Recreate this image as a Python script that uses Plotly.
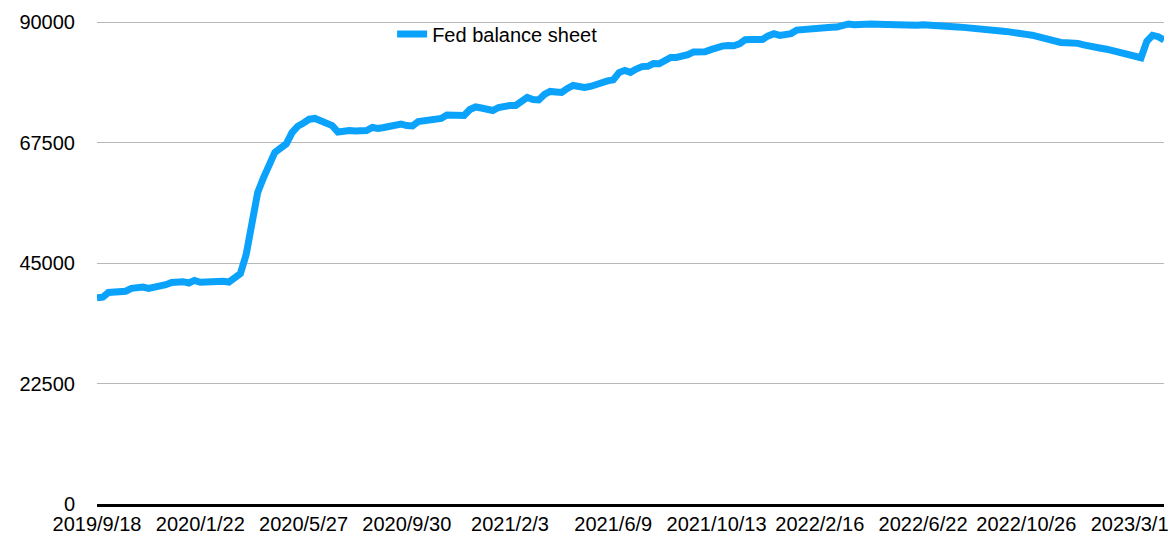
import datetime as dt
import plotly.graph_objects as go

start_date = dt.date(2019, 9, 18)
n_weeks = 187
dates = [(start_date + dt.timedelta(weeks=i)) for i in range(n_weeks)]
categories = [f"{d.year}/{d.month}/{d.day}" for d in dates]

fed_balance_sheet = [
    38540, 38650, 39530, 39600, 39700, 39760, 40290, 40500, 40550, 40300,
    40480, 40660, 40970, 41380, 41590, 41540, 41290, 41780, 41440, 41480,
    41630, 41780, 41630, 41480, 42300, 43050, 46600, 52500, 58150, 60900,
    63650, 65700, 66500, 67300, 69400, 70600, 71200, 71900, 72050, 71500,
    71050, 70700, 69500, 69700, 69790, 69700, 69600, 69790, 70350, 70160,
    70350, 70540, 70910, 71000, 70720, 70630, 71470, 71660, 71660, 71850,
    72040, 72680, 72600, 72500, 72600, 73720, 74190, 74000, 73630, 73530,
    74090, 74370, 74470, 74470, 75200, 75960, 75590, 75500, 76530, 77090,
    77000, 76900, 77650, 78210, 78020, 77830, 78020, 78400, 78970, 79060,
    79250, 80610, 81030, 80650, 81280, 81730, 81780, 82290, 82250, 82900,
    83430, 83440, 83630, 83950, 84480, 84460, 84490, 84900, 85340, 85560,
    85670, 85630, 86000, 86760, 86810, 86650, 86810, 87470, 87880, 87570,
    87660, 87900, 88550, 88680, 88740, 88770, 89130, 89100, 89100, 89120,
    89440, 89700, 89560, 89700, 89800, 89700, 89650, 89600, 89640, 89650,
    89500, 89300, 89330, 89450, 89560, 89450, 89280, 89190, 89190, 89190,
    89150, 89060, 89000, 88820, 88720, 88590, 88560, 88560, 88350, 88220,
    87970, 87880, 87750, 87600, 87280, 87000, 86720, 86530, 86250, 86200,
    86200, 86070, 85790, 85500, 85320, 85170, 84980, 84700, 84380, 84010,
    83820, 83540, 83390, 86440, 87560, 87320, 86680,
]

y_ticks = [0, 22500, 45000, 67500, 90000]
x_tick_step = 18
x_ticks = categories[::x_tick_step]

FONT = "Liberation Sans, Arial, Helvetica, sans-serif"
LINE_COLOR = "#0aa2fb"

fig = go.Figure()
fig.add_trace(go.Scatter(
    x=categories,
    y=fed_balance_sheet,
    mode="lines",
    name="Fed balance sheet",
    line=dict(color=LINE_COLOR, width=7),
))

fig.update_layout(
    width=1176,
    height=536,
    margin=dict(l=97, r=12, t=17, b=32, autoexpand=False),
    paper_bgcolor="white",
    plot_bgcolor="white",
    font=dict(family=FONT, size=20, color="black"),
    showlegend=True,
    legend=dict(
        orientation="h",
        x=0.2766, xanchor="left",
        y=0.965, yanchor="middle",
        font=dict(family=FONT, size=20, color="black"),
        bgcolor="rgba(0,0,0,0)",
    ),
)

fig.update_xaxes(
    type="category",
    range=[0, n_weeks - 1],
    tickmode="array",
    tickvals=x_ticks,
    ticktext=x_ticks,
    showgrid=False,
    showline=True,
    linecolor="black",
    linewidth=3,
    ticks="",
    ticklabelstandoff=0,
    zeroline=False,
    automargin=False,
)

fig.update_yaxes(
    range=[0, 91000],
    tickmode="array",
    tickvals=y_ticks,
    ticktext=[str(v) for v in y_ticks],
    showgrid=True,
    gridcolor="#b8b8b8",
    gridwidth=1,
    zeroline=False,
    showline=False,
    ticks="",
    ticklabelstandoff=21,
    automargin=False,
)

fig.write_html(
    "out.html",
    config={"displayModeBar": False},
    post_script="document.body.style.margin='0';document.body.style.overflow='hidden';",
)
